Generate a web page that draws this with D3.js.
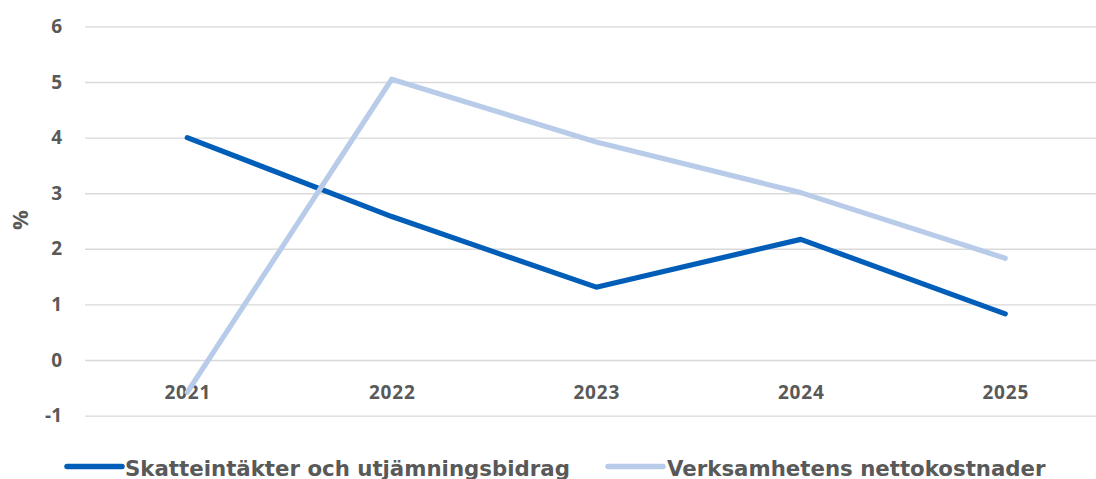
<!DOCTYPE html>
<html><head><meta charset="utf-8">
<script src="https://cdn.jsdelivr.net/npm/d3@7"></script>
<style>
html,body{margin:0;padding:0;background:#fff;}
svg{display:block;}
</style>
</head><body>
<svg id="c" width="1096" height="479"></svg>
<script>
const years = ["2021","2022","2023","2024","2025"];
const skatteintakter = [4.0, 2.58, 1.31, 2.17, 0.83];
const nettokostnader = [-0.58, 5.05, 3.92, 3.01, 1.83];
const yTicks = [-1,0,1,2,3,4,5,6];
const seriesNames = ["Skatteintäkter och utjämningsbidrag","Verksamhetens nettokostnader"];
const seriesColors = ["#005EB8","#B8CCEA"];

const svg = d3.select("#c");
const fontTick = "'Open Sans', sans-serif";
const textColor = "#595959";

const x = d3.scalePoint().domain(years).range([85, 1107.5]).padding(0.5);
const y = d3.scaleLinear().domain([-1, 6]).range([415.6, 26.4]);

// gridlines + y labels
const yAxis = d3.axisLeft(y).tickValues(yTicks).tickSize(-(1096-85)).tickPadding(23)
  .tickFormat(d => String(d));
const gy = svg.append("g").attr("transform","translate(85,0)").call(yAxis);
gy.select(".domain").remove();
gy.selectAll(".tick line").attr("stroke","#d9d9d9").attr("stroke-width",1.4);
gy.selectAll(".tick text").attr("fill",textColor).style("font-family",fontTick)
  .style("font-weight","700").style("font-size","19px");

// x axis labels at zero line
const xAxis = d3.axisBottom(x).tickSize(0).tickPadding(0);
const gx = svg.append("g").attr("transform",`translate(0,${y(0)})`).call(xAxis);
gx.select(".domain").remove();
gx.selectAll(".tick text").attr("y",38.5).attr("dy",0).attr("fill",textColor)
  .style("font-family",fontTick).style("font-weight","700").style("font-size","19px")
  .style("letter-spacing","0.8px");

// y title
svg.append("text").attr("transform","translate(28,220) rotate(-90)")
  .attr("text-anchor","middle").attr("fill",textColor)
  .style("font-family",fontTick).style("font-weight","700").style("font-size","22px")
  .text("%");

const line = d3.line().x((d,i)=>x(years[i])).y(d=>y(d));
[skatteintakter, nettokostnader].forEach((s,k)=>{
  svg.append("path").datum(s).attr("d",line).attr("fill","none")
    .attr("stroke",seriesColors[k]).attr("stroke-width",5.2)
    .attr("stroke-linejoin","round").attr("stroke-linecap","round");
});

// legend
const legX = [67, 608];
const legText = [125, 667];
const texts = [];
seriesNames.forEach((n,k)=>{
  svg.append("line").attr("x1",legX[k]).attr("x2",legX[k]+55).attr("y1",466.5).attr("y2",466.5)
    .attr("stroke",seriesColors[k]).attr("stroke-width",5.5).attr("stroke-linecap","round");
  texts.push(svg.append("text").attr("x",legText[k]).attr("y",476).attr("fill",textColor)
    .style("font-family","'DejaVu Sans', Verdana, sans-serif").style("font-weight","700")
    .style("font-size","20px").text(n));
});
const len0 = texts[0].node().getComputedTextLength();
const fs = Math.min(22, Math.max(16, 20*445/len0));
texts.forEach(t => t.style("font-size", fs.toFixed(2)+"px"));
</script>
</body></html>
